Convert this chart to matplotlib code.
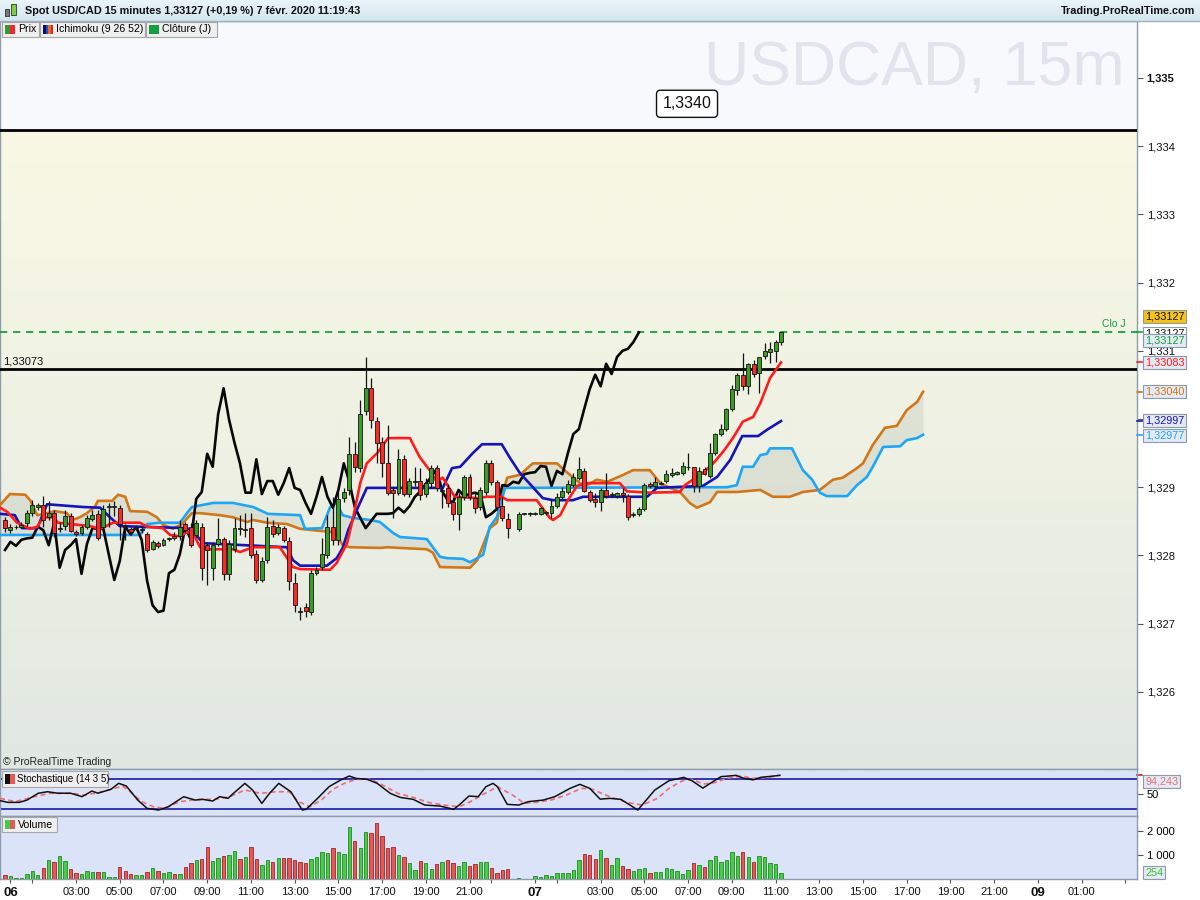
import numpy as np
import matplotlib
matplotlib.use("Agg")
import matplotlib.pyplot as plt
from matplotlib.patches import Rectangle
from matplotlib.transforms import blended_transform_factory
from matplotlib.colors import LinearSegmentedColormap

plt.rcParams['font.family'] = ['Liberation Sans', 'DejaVu Sans']

nan = np.nan

# ---------------- data (15-minute bars, 5 Feb 23:45 -> 7 Feb 11:15) ----------------
bar_open = [1.32852, 1.32837, 1.32841, 1.32842, 1.32848, 1.32862, 1.32871, 1.32874, 1.32856, 1.32862,
            1.32839, 1.32843, 1.32858, 1.32834, 1.32833, 1.32842, 1.32853, 1.32861, 1.32842, 1.32871,
            1.32871, 1.32870, 1.32843, 1.32839, 1.32840, 1.32837, 1.32831, 1.32809, 1.32818, 1.32815,
            1.32824, 1.32828, 1.32828, 1.32846, 1.32842, 1.32830, 1.32842, 1.32815, 1.32782, 1.32817,
            1.32824, 1.32773, 1.32809, 1.32840, 1.32837, 1.32840, 1.32802, 1.32764, 1.32793, 1.32843,
            1.32833, 1.32840, 1.32821, 1.32760, 1.32719, 1.32724, 1.32717, 1.32774, 1.32783, 1.32801,
            1.32842, 1.32823, 1.32884, 1.32896, 1.32949, 1.32928, 1.33012, 1.33045, 1.32997, 1.32966,
            1.32935, 1.32896, 1.32892, 1.32941, 1.32890, 1.32908, 1.32909, 1.32890, 1.32906, 1.32928,
            1.32895, 1.32899, 1.32878, 1.32861, 1.32886, 1.32915, 1.32884, 1.32871, 1.32893, 1.32935,
            1.32908, 1.32872, 1.32853, nan, 1.32839, 1.32861, 1.32861, 1.32861, 1.32861, 1.32862,
            1.32862, 1.32872, 1.32886, 1.32893, 1.32903, 1.32914, 1.32924, 1.32893, 1.32883, 1.32878,
            1.32896, 1.32889, 1.32887, 1.32891, 1.32887, 1.32860, 1.32861, 1.32868, 1.32905, 1.32902,
            1.32905, 1.32909, 1.32918, 1.32919, 1.32921, 1.32929, 1.32930, 1.32902, 1.32927, 1.32916,
            1.32950, 1.32978, 1.32985, 1.33015, 1.33043, 1.33065, 1.33048, 1.33081, 1.33067, 1.33092,
            1.33098, 1.33100, 1.33113]
bar_high = [1.32856, 1.32846, 1.32845, 1.32849, 1.32867, 1.32881, 1.32877, 1.32887, 1.32880, 1.32867,
            1.32849, 1.32867, 1.32862, 1.32837, 1.32845, 1.32859, 1.32867, 1.32867, 1.32874, 1.32877,
            1.32880, 1.32874, 1.32846, 1.32842, 1.32843, 1.32843, 1.32834, 1.32823, 1.32821, 1.32826,
            1.32827, 1.32834, 1.32852, 1.32849, 1.32848, 1.32852, 1.32848, 1.32818, 1.32820, 1.32855,
            1.32827, 1.32823, 1.32855, 1.32859, 1.32862, 1.32862, 1.32808, 1.32798, 1.32856, 1.32852,
            1.32846, 1.32843, 1.32827, 1.32774, 1.32724, 1.32730, 1.32779, 1.32783, 1.32826, 1.32859,
            1.32886, 1.32893, 1.32899, 1.32974, 1.32966, 1.33028, 1.33091, 1.33060, 1.33003, 1.32974,
            1.32991, 1.32900, 1.32956, 1.32947, 1.32914, 1.32930, 1.32928, 1.32914, 1.32933, 1.32933,
            1.32902, 1.32905, 1.32886, 1.32892, 1.32918, 1.32919, 1.32892, 1.32900, 1.32940, 1.32940,
            1.32911, 1.32886, 1.32862, nan, 1.32864, 1.32862, 1.32864, 1.32864, 1.32871, 1.32865,
            1.32881, 1.32892, 1.32900, 1.32911, 1.32921, 1.32944, 1.32928, 1.32896, 1.32892, 1.32899,
            1.32921, 1.32893, 1.32893, 1.32899, 1.32890, 1.32864, 1.32871, 1.32906, 1.32908, 1.32915,
            1.32909, 1.32925, 1.32928, 1.32924, 1.32937, 1.32950, 1.32930, 1.32930, 1.32930, 1.32965,
            1.32980, 1.32993, 1.33016, 1.33050, 1.33067, 1.33097, 1.33082, 1.33086, 1.33091, 1.33111,
            1.33113, 1.33116, 1.33128]
bar_low = [1.32834, 1.32833, 1.32839, 1.32840, 1.32843, 1.32858, 1.32867, 1.32842, 1.32852, 1.32827,
           1.32834, 1.32837, 1.32834, 1.32828, 1.32830, 1.32839, 1.32850, 1.32823, 1.32839, 1.32842,
           1.32858, 1.32823, 1.32823, 1.32830, 1.32837, 1.32833, 1.32805, 1.32808, 1.32811, 1.32814,
           1.32821, 1.32823, 1.32823, 1.32834, 1.32812, 1.32827, 1.32764, 1.32757, 1.32764, 1.32814,
           1.32764, 1.32764, 1.32805, 1.32830, 1.32827, 1.32796, 1.32760, 1.32761, 1.32789, 1.32827,
           1.32830, 1.32820, 1.32749, 1.32717, 1.32705, 1.32710, 1.32713, 1.32771, 1.32779, 1.32796,
           1.32815, 1.32815, 1.32878, 1.32889, 1.32922, 1.32922, 1.33006, 1.32987, 1.32935, 1.32915,
           1.32889, 1.32855, 1.32889, 1.32887, 1.32886, 1.32902, 1.32881, 1.32886, 1.32899, 1.32894,
           1.32870, 1.32871, 1.32852, 1.32837, 1.32881, 1.32881, 1.32862, 1.32867, 1.32889, 1.32903,
           1.32867, 1.32850, 1.32826, nan, 1.32836, 1.32859, 1.32858, 1.32859, 1.32859, 1.32859,
           1.32855, 1.32870, 1.32883, 1.32890, 1.32900, 1.32911, 1.32893, 1.32878, 1.32871, 1.32865,
           1.32884, 1.32886, 1.32884, 1.32878, 1.32852, 1.32856, 1.32858, 1.32865, 1.32899, 1.32899,
           1.32903, 1.32906, 1.32915, 1.32918, 1.32918, 1.32925, 1.32893, 1.32893, 1.32918, 1.32914,
           1.32947, 1.32975, 1.32982, 1.33012, 1.33035, 1.33043, 1.33037, 1.33062, 1.33038, 1.33088,
           1.33082, 1.33084, 1.33108]
bar_close = [1.32840, 1.32842, 1.32842, 1.32845, 1.32862, 1.32874, 1.32874, 1.32852, 1.32862, 1.32833,
             1.32840, 1.32858, 1.32836, 1.32831, 1.32842, 1.32855, 1.32859, 1.32826, 1.32868, 1.32872,
             1.32872, 1.32846, 1.32842, 1.32834, 1.32842, 1.32839, 1.32808, 1.32820, 1.32814, 1.32823,
             1.32825, 1.32826, 1.32842, 1.32837, 1.32815, 1.32848, 1.32782, 1.32808, 1.32815, 1.32824,
             1.32773, 1.32817, 1.32840, 1.32839, 1.32839, 1.32801, 1.32764, 1.32792, 1.32842, 1.32831,
             1.32842, 1.32823, 1.32763, 1.32727, 1.32717, 1.32719, 1.32774, 1.32779, 1.32802, 1.32842,
             1.32823, 1.32883, 1.32893, 1.32949, 1.32930, 1.33007, 1.33045, 1.32999, 1.32965, 1.32935,
             1.32892, 1.32892, 1.32941, 1.32890, 1.32909, 1.32909, 1.32889, 1.32906, 1.32928, 1.32899,
             1.32896, 1.32877, 1.32861, 1.32886, 1.32915, 1.32886, 1.32870, 1.32896, 1.32935, 1.32908,
             1.32871, 1.32855, 1.32840, nan, 1.32861, 1.32861, 1.32861, 1.32862, 1.32870, 1.32863,
             1.32872, 1.32886, 1.32894, 1.32905, 1.32915, 1.32927, 1.32894, 1.32881, 1.32878, 1.32896,
             1.32887, 1.32890, 1.32892, 1.32889, 1.32856, 1.32861, 1.32868, 1.32903, 1.32902, 1.32908,
             1.32906, 1.32919, 1.32921, 1.32922, 1.32931, 1.32930, 1.32902, 1.32924, 1.32919, 1.32950,
             1.32978, 1.32985, 1.33015, 1.33044, 1.33065, 1.33048, 1.33081, 1.33066, 1.33091, 1.33100,
             1.33103, 1.33113, 1.33127]
volume = [167, 125, 42, 42, 208, 333, 167, 445, 792, 709,
          959, 764, 417, 236, 208, 333, 306, 292, 292, 70,
          97, 486, 333, 208, 153, 181, 292, 445, 320, 250,
          292, 208, 208, 486, 653, 792, 820, 1320, 737, 876,
          959, 1015, 1181, 820, 904, 1320, 820, 570, 792, 709,
          876, 862, 876, 792, 709, 653, 820, 904, 1126, 1098,
          1293, 1126, 1029, 2155, 1585, 1293, 1960, 1918, 2335, 1793,
          1293, 1320, 987, 904, 653, 375, 751, 653, 403, 612,
          709, 792, 653, 542, 709, 542, 612, 709, 709, 445,
          250, 375, 417, 0, 42, 0, 0, 125, 97, 181,
          125, 236, 250, 250, 375, 792, 1029, 987, 848, 1209,
          862, 570, 862, 542, 417, 320, 403, 445, 236, 278,
          278, 445, 417, 333, 208, 375, 653, 570, 486, 792,
          959, 709, 792, 1126, 959, 1126, 904, 709, 945, 904,
          653, 626, 254]

# Ichimoku (9 26 52) lines read as vertices: bar index -> price
tenkan_x = [-0.9, 0.4, 2.2, 4.6, 5.9, 7.0, 8.8, 9.7, 15.6, 17.4, 19.8, 24.7, 26.0, 28.9, 30.2, 32.0, 33.3,
            34.4, 35.7, 37.0, 41.7, 43.0, 45.4, 50.3, 52.7, 54.0, 59.5, 60.7, 62.6, 63.7, 65.0, 66.2, 68.1,
            70.1, 74.1, 75.9, 77.8, 79.0, 80.1, 82.3, 86.4, 88.2, 90.9, 91.9, 97.3, 99.7, 100.3, 101.6,
            103.0, 104.7, 106.5, 112.5, 113.8, 118.0, 123.5, 124.4, 126.6, 127.7, 129.6, 131.4, 133.2,
            135.0, 136.9, 138.2, 140.0, 142.0]
tenkan_y = [1.32870, 1.32864, 1.32848, 1.32839, 1.32842, 1.32856, 1.32856, 1.32848, 1.32843, 1.32839,
            1.32848, 1.32848, 1.32842, 1.32840, 1.32830, 1.32828, 1.32834, 1.32833, 1.32812, 1.32809,
            1.32809, 1.32805, 1.32812, 1.32812, 1.32783, 1.32780, 1.32779, 1.32789, 1.32818, 1.32855,
            1.32906, 1.32935, 1.32950, 1.32972, 1.32972, 1.32944, 1.32924, 1.32908, 1.32914, 1.32886,
            1.32884, 1.32886, 1.32886, 1.32881, 1.32881, 1.32855, 1.32852, 1.32859, 1.32881, 1.32902,
            1.32906, 1.32906, 1.32894, 1.32892, 1.32893, 1.32903, 1.32915, 1.32921, 1.32935, 1.32952,
            1.32972, 1.32996, 1.33003, 1.33023, 1.33060, 1.33083]
kijun_x = [-0.9, 1.8, 3.1, 5.9, 7.7, 14.3, 17.4, 19.2, 21.0, 33.3, 34.4, 36.2, 51.6, 52.7, 54.0, 58.9,
           60.7, 61.8, 62.8, 64.4, 66.2, 80.1, 81.8, 83.3, 85.6, 87.3, 90.9, 92.4, 94.2, 96.6, 98.4,
           100.3, 103.9, 105.8, 117.5, 119.3, 127.7, 130.3, 132.7, 134.9, 137.8, 139.4, 142.0]
kijun_y = [1.32861, 1.32859, 1.32840, 1.32840, 1.32875, 1.32871, 1.32870, 1.32856, 1.32843, 1.32840,
           1.32836, 1.32818, 1.32812, 1.32793, 1.32785, 1.32785, 1.32796, 1.32811, 1.32837, 1.32867,
           1.32899, 1.32899, 1.32928, 1.32930, 1.32950, 1.32963, 1.32963, 1.32943, 1.32921, 1.32900,
           1.32884, 1.32881, 1.32881, 1.32886, 1.32886, 1.32899, 1.32902, 1.32915, 1.32940, 1.32975,
           1.32975, 1.32984, 1.32997]
senkou_a_x = [-0.9, 0.9, 3.7, 4.6, 5.9, 7.7, 9.1, 11.3, 12.4, 13.7, 15.0, 16.5, 17.0, 19.6, 20.7, 22.0,
              22.9, 26.0, 27.8, 28.9, 30.7, 32.4, 34.2, 35.7, 39.3, 41.7, 44.3, 45.4, 47.9, 51.6, 54.0,
              57.6, 60.4, 61.8, 63.1, 68.6, 69.9, 77.2, 78.3, 79.6, 85.1, 86.4, 88.7, 90.0, 90.9, 91.9,
              94.2, 96.6, 101.0, 102.8, 105.2, 106.5, 108.3, 110.2, 113.1, 114.9, 118.0, 119.9, 121.7,
              123.5, 125.3, 126.6, 129.0, 130.3, 133.9, 138.2, 140.5, 143.6, 146.0, 149.1, 151.5, 153.3,
              155.9, 157.0, 158.8, 161.0, 163.2, 165.0, 166.9, 168.0]
senkou_a_y = [1.32874, 1.32890, 1.32889, 1.32881, 1.32859, 1.32862, 1.32865, 1.32862, 1.32852, 1.32856,
              1.32862, 1.32872, 1.32880, 1.32880, 1.32889, 1.32886, 1.32865, 1.32864, 1.32856, 1.32845,
              1.32839, 1.32846, 1.32862, 1.32862, 1.32859, 1.32856, 1.32849, 1.32852, 1.32848, 1.32846,
              1.32839, 1.32836, 1.32834, 1.32815, 1.32812, 1.32811, 1.32812, 1.32809, 1.32804, 1.32783,
              1.32782, 1.32793, 1.32840, 1.32848, 1.32886, 1.32914, 1.32918, 1.32935, 1.32935, 1.32922,
              1.32906, 1.32903, 1.32911, 1.32908, 1.32918, 1.32925, 1.32925, 1.32906, 1.32899, 1.32893,
              1.32877, 1.32870, 1.32878, 1.32893, 1.32893, 1.32896, 1.32886, 1.32886, 1.32893, 1.32896,
              1.32911, 1.32914, 1.32928, 1.32935, 1.32962, 1.32987, 1.32990, 1.33013, 1.33025, 1.33040]
senkou_b_x = [-0.9, 24.7, 26.0, 28.4, 32.0, 33.3, 34.2, 38.1, 41.7, 45.4, 48.1, 54.0, 54.9, 58.0, 59.5,
              60.7, 61.8, 63.7, 66.8, 68.6, 71.0, 72.3, 77.2, 78.3, 79.6, 80.9, 83.8, 85.1, 86.4, 87.5,
              88.7, 90.0, 91.5, 132.1, 133.9, 135.0, 136.9, 138.2, 139.4, 140.0, 144.0, 146.0, 147.7,
              149.1, 150.4, 154.1, 155.9, 157.7, 158.8, 160.7, 163.8, 165.0, 166.9, 168.0]
senkou_b_y = [1.32830, 1.32830, 1.32846, 1.32848, 1.32848, 1.32862, 1.32871, 1.32877, 1.32877, 1.32871,
              1.32861, 1.32859, 1.32839, 1.32840, 1.32871, 1.32877, 1.32859, 1.32855, 1.32852, 1.32849,
              1.32833, 1.32827, 1.32824, 1.32812, 1.32798, 1.32796, 1.32795, 1.32790, 1.32796, 1.32801,
              1.32842, 1.32856, 1.32899, 1.32900, 1.32903, 1.32930, 1.32930, 1.32947, 1.32949, 1.32957,
              1.32957, 1.32925, 1.32911, 1.32892, 1.32887, 1.32887, 1.32903, 1.32915, 1.32930, 1.32959,
              1.32960, 1.32969, 1.32972, 1.32977]
chikou_shift = 26

# Stochastic (14 3 5)
stoch_k_x = [-0.9, 0.5, 2.6, 4.0, 6.1, 7.8, 9.6, 12.0, 14.1, 15.9, 17.0, 19.4, 20.8, 22.2, 24.3, 26.0,
             28.1, 29.9, 32.7, 33.7, 34.8, 36.2, 38.0, 39.3, 40.8, 41.8, 43.9, 45.3, 47.0, 48.4, 50.1,
             52.3, 54.4, 55.1, 57.2, 59.3, 61.4, 63.0, 64.2, 66.3, 68.1, 70.5, 72.3, 74.7, 76.8, 79.6,
             82.1, 83.1, 84.9, 86.6, 88.0, 89.3, 90.1, 91.9, 94.0, 95.7, 98.5, 100.6, 103.4, 105.2,
             107.0, 108.9, 110.7, 112.7, 115.8, 118.9, 121.5, 124.2, 125.7, 127.7, 129.2, 131.0, 133.8,
             135.2, 136.9, 138.3, 141.8]
stoch_k_y = [37, 33.5, 33.5, 38, 52, 55, 52, 52, 45, 56.4, 52, 60, 72, 66.5, 38, 21.4,
             18, 24.7, 45, 41.6, 38.2, 39.6, 36.2, 45, 41.6, 51.7, 71.9, 58.4, 31.5, 51.7, 71.9,
             55, 18, 19.4, 41.6, 65.2, 78.6, 86.7, 82, 80, 71.9, 51.7, 43.6, 39.6, 28.1, 26.1,
             19.4, 28.1, 46.3, 45, 65.2, 71.9, 65.2, 29.5, 28.1, 34.8, 38.2, 45, 61.8, 69.9,
             61.8, 40, 41.6, 39.6, 18, 58.4, 77.3, 84, 77.3, 62.3, 73, 85.4, 88,
             82, 79, 84, 88]
stoch_d_x = [-0.9, 1.9, 5.4, 8.2, 12.4, 14.5, 17.3, 20.1, 21.5, 22.9, 25.0, 27.1, 29.2, 32.0, 35.5, 38.3,
             41.1, 43.9, 46.7, 49.5, 52.0, 53.7, 55.8, 57.9, 60.0, 62.1, 64.2, 67.0, 69.1, 71.9, 74.7,
             77.5, 80.3, 83.1, 85.2, 87.3, 90.1, 92.9, 95.0, 97.1, 99.9, 102.7, 105.5, 107.6, 108.9,
             111.0, 113.8, 116.6, 119.4, 121.5, 124.0, 125.7, 127.8, 129.9, 132.0, 134.8, 136.9, 139.7,
             141.8]
stoch_d_y = [41.6, 35, 45, 51.7, 51.7, 48, 53.7, 62, 66.5, 55, 35, 24.7, 21.4, 35, 39.6, 39.6,
             45, 58.4, 51.7, 55, 55, 35, 24.7, 38.2, 59.8, 71.9, 80, 80, 68.5, 51.7, 43.6,
             33.4, 28.1, 24.7, 35, 48.3, 65.2, 48.3, 31.5, 33.4, 38.2, 48.3, 61.8, 59.8, 53,
             43.6, 33.4, 28, 41.6, 61.8, 77.3, 80, 70.5, 73.3, 82, 86.7, 82, 84,
             88.8]

level_high = 1.33424
level_high_text = "1,3340"
level_mid = 1.33073
daily_close = 1.33127
last_price = 1.33127
stoch_last = "94,243"

tick_pos = [1, 5, 13, 21, 29, 37, 45, 53, 61, 69, 77, 85, 89, 97, 101, 109, 117, 125, 133, 141,
            149, 157, 165, 173, 181, 189, 197, 205]
tick_lab = ["06", "", "03:00", "05:00", "07:00", "09:00", "11:00", "13:00", "15:00", "17:00", "19:00",
            "21:00", "", "07", "", "03:00", "05:00", "07:00", "09:00", "11:00", "13:00", "15:00",
            "17:00", "19:00", "21:00", "09", "01:00", ""]

# ---------------- layout ----------------
W, H = 1200, 900
fig = plt.figure(figsize=(12, 9), dpi=100)
fig.patch.set_facecolor('white')


def rect_px(x0, y0, x1, y1):
    return [x0 / W, 1 - y1 / H, (x1 - x0) / W, (y1 - y0) / H]


def fig_box(x0, y0, x1, y1, fc, ec='none', lw=0.8, z=2):
    fig.add_artist(Rectangle((x0 / W, 1 - y1 / H), (x1 - x0) / W, (y1 - y0) / H,
                             transform=fig.transFigure, fc=fc, ec=ec, lw=lw, zorder=z))


def fig_text(x, y, s, **kw):
    fig.text(x / W, 1 - y / H, s, **kw)


PR = 1137
XMIN, XMAX = -0.915, 207.14
YMIN, YMAX = 1.324869, 1.335835

ax = fig.add_axes(rect_px(0, 21, PR, 769))
ax_st = fig.add_axes(rect_px(0, 769, PR, 816))
ax_v = fig.add_axes(rect_px(0, 816, PR, 879))

spine_c = '#8e9cab'
for a in (ax, ax_st, ax_v):
    a.set_xlim(XMIN, XMAX)
    for s in a.spines.values():
        s.set_color(spine_c)
        s.set_linewidth(1.0)

# ---------------- main chart ----------------
ax.set_facecolor('#f7f9fd')
cmap = LinearSegmentedColormap.from_list('bg', ['#f8f8e3', '#eef1e3', '#e1e8e2'])
grad = np.linspace(0, 1, 256).reshape(-1, 1)
ax.imshow(grad, extent=[XMIN, XMAX, YMIN, level_high], aspect='auto', cmap=cmap,
          origin='upper', zorder=0, interpolation='bilinear')
ax.set_xlim(XMIN, XMAX)
ax.set_ylim(YMIN, YMAX)

# cloud
grid = np.linspace(min(senkou_a_x[0], senkou_b_x[0]), max(senkou_a_x[-1], senkou_b_x[-1]), 1200)
ka = np.interp(grid, senkou_a_x, senkou_a_y)
kb = np.interp(grid, senkou_b_x, senkou_b_y)
ax.fill_between(grid, ka, kb, color='#9aa19a', alpha=0.2, lw=0, zorder=1)

ax.axhline(level_high, color='black', lw=2.0, zorder=3)
ax.axhline(level_mid, color='black', lw=2.0, zorder=3)
ax.axhline(daily_close, color='#14a03c', lw=1.3, ls=(0, (4, 3.2)), zorder=3)

ax.plot(senkou_a_x, senkou_a_y, color='#d2761a', lw=1.9, zorder=4)
ax.plot(senkou_b_x, senkou_b_y, color='#1ea6f5', lw=1.9, zorder=4)

close_arr = np.array(bar_close, dtype=float)
idx = np.arange(len(close_arr))
ch_x = idx[:-chikou_shift]
ch_y = close_arr[chikou_shift:]
okc = ~np.isnan(ch_y)
ax.plot(ch_x[okc], ch_y[okc], color='#080808', lw=1.9, zorder=4)

ax.plot(kijun_x, kijun_y, color='#1414b8', lw=1.9, zorder=4)
ax.plot(tenkan_x, tenkan_y, color='#ff1c1c', lw=1.9, zorder=4)

# candles
o = np.array(bar_open, dtype=float)
hi = np.array(bar_high, dtype=float)
lo = np.array(bar_low, dtype=float)
c = close_arr
valid = ~np.isnan(c)
up = valid & (c >= o)
dn = valid & (c < o)
ax.vlines(idx[valid], lo[valid], hi[valid], color='#141414', lw=0.9, zorder=5)
body_lo = np.minimum(o, c)
body_h = np.maximum(np.abs(c - o), 0.000012)
ax.bar(idx[up], body_h[up], bottom=body_lo[up], width=0.72, color='#3a9b28',
       edgecolor='#151515', lw=0.6, zorder=6)
ax.bar(idx[dn], body_h[dn], bottom=body_lo[dn], width=0.72, color='#ff2626',
       edgecolor='#151515', lw=0.6, zorder=6)

# right axis of main chart (1,330 is hidden behind the value boxes in the original)
ax.yaxis.tick_right()
yt = np.round(np.arange(1.326, 1.33501, 0.001), 3)
yl = ["" if abs(v - 1.330) < 1e-9 else f"{v:.3f}".replace('.', ',') for v in yt]
ax.set_yticks(yt, labels=yl)
ax.tick_params(axis='y', direction='out', length=4, width=0.8, color='#555555',
               labelsize=8, pad=3, labelcolor='#111111')
for t in ax.get_yticklabels():
    if t.get_text() == '1,335':
        t.set_fontweight('bold')
ax.tick_params(axis='x', bottom=False, labelbottom=False)

trans = blended_transform_factory(ax.transAxes, ax.transData)


def side_label(price, text, tcolor, fc='#e3eaf3', dy=0, z=8, tick=None):
    ax.annotate(text, xy=(1.0, price), xycoords=trans, xytext=(8, dy), textcoords='offset pixels',
                ha='left', va='center', fontsize=7.8, color=tcolor, zorder=z, annotation_clip=False,
                bbox=dict(boxstyle='square,pad=0.14', fc=fc, ec='#8c9aac', lw=0.8))
    if tick:
        ax.plot([1.0, 1.0045], [price, price], transform=trans, color=tick, lw=1.2,
                clip_on=False, zorder=8)


side_label(last_price, "1,33127", '#111111', fc='#f5c414', dy=15.5, z=9)
side_label(last_price, "1,33127", '#111111', fc='#ffffff', dy=-1, z=9)
side_label(daily_close, "1,33127", '#14a03c', dy=-8.5, z=10, tick='#14a03c')
side_label(tenkan_y[-1], "1,33083", '#ff1c1c', tick='#ff1c1c')
side_label(senkou_a_y[-1], "1,33040", '#d2761a', tick='#d2761a')
side_label(kijun_y[-1], "1,32997", '#1414b8', dy=0.5, tick='#1414b8')
side_label(senkou_b_y[-1], "1,32977", '#1ea6f5', dy=-1, tick='#1ea6f5')

ax.annotate("Clo J", xy=(0.98, daily_close), xycoords=trans, xytext=(0, 3),
            textcoords='offset pixels', ha='center', va='bottom', fontsize=7.5,
            color='#14a03c', zorder=8)
ax.annotate("1,33073", xy=(0.003, level_mid), xycoords=trans, xytext=(0, 3),
            textcoords='offset pixels', ha='left', va='bottom', fontsize=8, color='#111111', zorder=8)
ax.annotate(level_high_text, xy=(124.8, level_high), xycoords='data', xytext=(0, 26),
            textcoords='offset pixels', ha='center', va='center', fontsize=11.5, color='#111111',
            zorder=8, bbox=dict(boxstyle='round,pad=0.38,rounding_size=0.25', fc='white',
                                ec='#111111', lw=1.0))
ax.text(0.9886, 0.9144, "USDCAD, 15m", transform=ax.transAxes, ha='right', va='baseline',
        fontsize=45, color='#e2e4ed', zorder=1)
ax.text(0.003, 0.003, "\u00a9 ProRealTime Trading", transform=ax.transAxes, ha='left',
        va='bottom', fontsize=7.5, color='#222222', zorder=8)

# ---------------- stochastic ----------------
panel_bg = '#dbe3f9'
ax_st.set_facecolor(panel_bg)
ax_st.set_ylim(5.96, 100.9)
ax_st.axhline(80, color='#2626b4', lw=1.3, zorder=2)
ax_st.axhline(20, color='#2626b4', lw=1.3, zorder=2)
ax_st.plot(stoch_d_x, stoch_d_y, color='#ef6f6f', lw=1.2, ls=(0, (3, 2)), zorder=3)
ax_st.plot(stoch_k_x, stoch_k_y, color='#111111', lw=1.1, zorder=4)
ax_st.yaxis.tick_right()
ax_st.set_yticks([50], labels=["50"])
ax_st.tick_params(axis='y', direction='out', length=4, width=0.8, color='#555555',
                  labelsize=8, pad=3)
ax_st.tick_params(axis='x', bottom=False, labelbottom=False)
ax_st.annotate(stoch_last, xy=(1.0, 0.74), xycoords='axes fraction', xytext=(8, 0),
               textcoords='offset pixels', ha='left', va='center', fontsize=7.8, color='#ef6f6f',
               annotation_clip=False, zorder=8,
               bbox=dict(boxstyle='square,pad=0.14', fc='#e3eaf3', ec='#8c9aac', lw=0.8))
ax_st.plot([1.0, 1.0045], [stoch_k_y[-1], stoch_k_y[-1]],
           transform=blended_transform_factory(ax_st.transAxes, ax_st.transData),
           color='#cc2020', lw=1.2, clip_on=False)

# ---------------- volume ----------------
ax_v.set_facecolor(panel_bg)
vol = np.array(volume, dtype=float)
ax_v.bar(idx[up], vol[up], width=0.62, color='#47cc47', edgecolor='#1f8a1f', lw=0.6, zorder=3)
ax_v.bar(idx[dn], vol[dn], width=0.62, color='#e65757', edgecolor='#a52424', lw=0.6, zorder=3)
ax_v.set_ylim(0, 2625)
ax_v.yaxis.tick_right()
ax_v.set_yticks([1000, 2000], labels=["1 000", "2 000"])
ax_v.tick_params(axis='y', direction='out', length=4, width=0.8, color='#555555',
                 labelsize=8, pad=3)
ax_v.annotate(str(volume[-1]), xy=(1.0, vol[-1]),
              xycoords=blended_transform_factory(ax_v.transAxes, ax_v.transData),
              xytext=(8, 0), textcoords='offset pixels', ha='left', va='center', fontsize=7.8,
              color='#35c035', annotation_clip=False, zorder=8,
              bbox=dict(boxstyle='square,pad=0.14', fc='#e3eaf3', ec='#8c9aac', lw=0.8))
ax_v.set_xticks(tick_pos, labels=tick_lab)
ax_v.tick_params(axis='x', direction='out', length=3, width=0.8, color='#555555',
                 labelsize=8, pad=3, labelcolor='#111111')
for t in ax_v.get_xticklabels():
    if t.get_text() in ("06", "07", "09"):
        t.set_fontweight('bold')
        t.set_fontsize(9.5)

# ---------------- header & legends ----------------
ax_h = fig.add_axes(rect_px(0, 0, W, 21))
hcm = LinearSegmentedColormap.from_list('hd', ['#eaf5f9', '#d3e6ee'])
ax_h.imshow(grad, aspect='auto', cmap=hcm, extent=[0, 1, 0, 1], origin='upper')
ax_h.set_axis_off()
fig.add_artist(plt.Line2D([0, 1], [1 - 21 / H, 1 - 21 / H], transform=fig.transFigure,
                          color='#9eb0bf', lw=1))
fig_box(5, 9, 9, 16, '#777777', '#333333', 0.6, z=3)
fig_box(11, 4, 16, 15, '#7fd040', '#333333', 0.6, z=3)
fig_text(25, 11, "Spot USD/CAD 15 minutes 1,33127 (+0,19 %) 7 f\u00e9vr. 2020 11:19:43",
         fontsize=7.8, fontweight='bold', va='center', ha='left', color='#111111')
fig_text(1195, 11, "Trading.ProRealTime.com", fontsize=7.8, fontweight='bold', va='center',
         ha='right', color='#111111')

# legend row of the price panel
fig_box(2, 22, 39, 37, '#efefef', '#a6a6a6')
fig_box(5, 25, 10, 34, '#2f9a2f', z=3)
fig_box(10, 25, 15, 34, '#ff2222', z=3)
fig_text(18, 29.5, "Prix", fontsize=7.6, va='center', ha='left')
fig_box(40, 22, 145, 37, '#efefef', '#a6a6a6')
for k, col in enumerate(['#0b0b50', '#1f4fe0', '#e07020', '#ee2020']):
    fig_box(43 + 2.5 * k, 25, 45.5 + 2.5 * k, 34, col, z=3)
fig_text(56, 29.5, "Ichimoku (9 26 52)", fontsize=7.6, va='center', ha='left')
fig_box(146, 22, 217, 37, '#efefef', '#a6a6a6')
fig_box(149, 25, 159, 34, '#14a03c', z=3)
fig_text(162, 29.5, "Cl\u00f4ture (J)", fontsize=7.6, va='center', ha='left')

# sub-panel labels
fig_box(2, 771, 108, 787, '#efefef', '#a6a6a6')
fig_box(5, 774, 10, 784, '#111111', z=3)
fig_box(10, 774, 15, 784, '#ee5555', z=3)
fig_text(17, 779, "Stochastique (14 3 5)", fontsize=7, va='center', ha='left')
fig_box(2, 817, 57, 832, '#efefef', '#a6a6a6')
fig_box(5, 820, 10, 829, '#44cc44', z=3)
fig_box(10, 820, 15, 829, '#e65757', z=3)
fig_text(18, 824.5, "Volume", fontsize=7.6, va='center', ha='left')

fig.savefig('out.png', dpi=100)
